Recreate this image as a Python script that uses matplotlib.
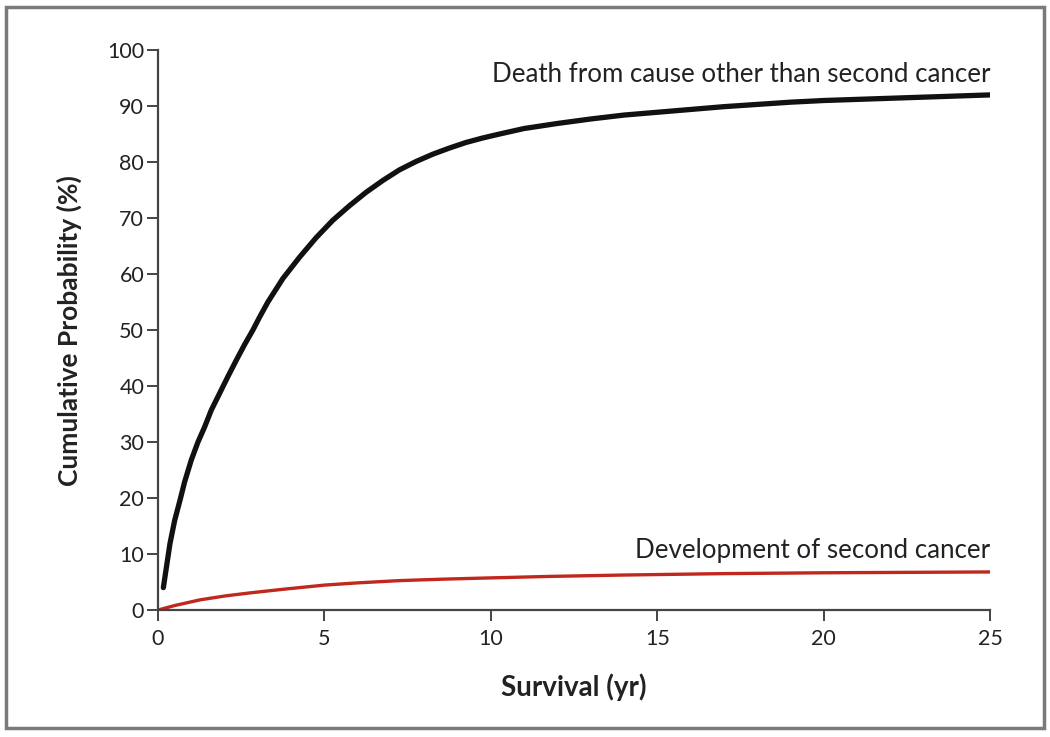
import matplotlib
matplotlib.use("Agg")
import matplotlib.pyplot as plt
from matplotlib.patches import Rectangle

# Data
death_x = [0.16, 0.36, 0.5, 0.66, 0.8, 1.0, 1.2, 1.4, 1.6, 1.85, 2.1, 2.35, 2.6, 2.85, 3.05, 3.3, 3.75,
           4.25, 4.75, 5.25, 5.75, 6.25, 6.75, 7.25, 7.75, 8.25, 8.75, 9.25, 9.75, 10.25, 11, 12,
           13, 14, 15, 16, 17, 18, 19, 20, 21, 22, 23, 24, 25]
death_y = [4.0, 11.9, 16.0, 19.6, 22.9, 26.8, 30.0, 32.7, 35.7, 38.7, 41.7, 44.6, 47.4, 50.0, 52.3, 55.0, 59.2,
           63.0, 66.5, 69.6, 72.2, 74.6, 76.7, 78.6, 80.1, 81.4, 82.5, 83.5, 84.3, 85.0, 86.0, 86.9,
           87.7, 88.4, 88.9, 89.4, 89.9, 90.3, 90.7, 91.0, 91.2, 91.4, 91.6, 91.8, 92.0]
cancer_x = [0, 0.5, 1.25, 2.0, 2.75, 3.75, 5.0, 6.0, 7.25, 8.5, 9.75, 11.75, 14, 17, 20, 25]
cancer_y = [0, 0.8, 1.8, 2.5, 3.05, 3.7, 4.45, 4.85, 5.25, 5.5, 5.7, 6.0, 6.25, 6.5, 6.65, 6.8]
x_ticks = [0, 5, 10, 15, 20, 25]
y_ticks = [0, 10, 20, 30, 40, 50, 60, 70, 80, 90, 100]
label_death = "Death from cause other than second cancer"
label_cancer = "Development of second cancer"

plt.rcParams['font.family'] = ['Lato', 'DejaVu Sans']

fig = plt.figure(figsize=(10.5, 7.37), dpi=100)
fig.patch.set_facecolor('white')
fig.add_artist(Rectangle((0.006, 0.012), 0.988, 0.978, transform=fig.transFigure,
                         fill=False, edgecolor='#7a7a7a', linewidth=2.5))

ax = fig.add_axes([0.1505, 0.1723, 0.7925, 0.7597])
ax.plot(death_x, death_y, color='#111111', linewidth=3.8, solid_capstyle='round',
        solid_joinstyle='round')
ax.plot(cancer_x, cancer_y, color='#c0281e', linewidth=2.4, solid_capstyle='round',
        solid_joinstyle='round')

ax.set_xlim(0, 25)
ax.set_ylim(0, 100)
ax.set_xticks(x_ticks)
ax.set_yticks(y_ticks)
for s in ['top', 'right']:
    ax.spines[s].set_visible(False)
for s in ['left', 'bottom']:
    ax.spines[s].set_color('#444444')
    ax.spines[s].set_linewidth(1.6)
ax.tick_params(axis='both', colors='#444444', width=1.4, length=8, direction='out',
               labelsize=15.5, labelcolor='#222222')
ax.tick_params(axis='y', pad=2)
ax.tick_params(axis='x', pad=6)

ax.set_xlabel("Survival (yr)", fontsize=20, fontweight='bold', color='#222222', labelpad=17)
ax.set_ylabel("Cumulative Probability (%)", fontsize=19, fontweight='bold', color='#222222', labelpad=18)

ax.text(25, 95.6, label_death, ha='right', va='center', fontsize=18.6, color='#222222')
ax.text(25, 10.6, label_cancer, ha='right', va='center', fontsize=18.6, color='#222222')

fig.savefig("out.png", dpi=100, facecolor='white')
